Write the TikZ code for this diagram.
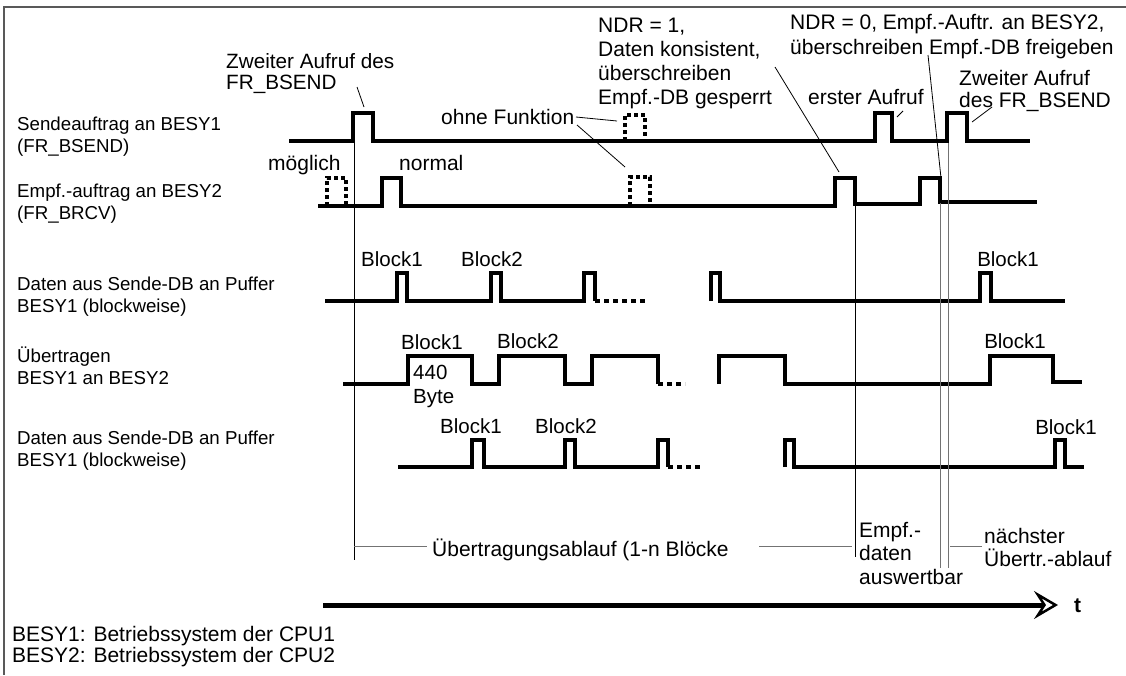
\documentclass[tikz,border=0pt]{standalone}
\usepackage{fontspec}
\setmainfont{Liberation Sans}
\usetikzlibrary{arrows.meta}
\newcommand{\lblsize}{\fontsize{18.7}{22}\selectfont}
\newcommand{\notesize}{\fontsize{21}{23.5}\selectfont}
\newcommand{\blksize}{\fontsize{20.5}{23.5}\selectfont}
\begin{document}
\begin{tikzpicture}[x=1pt, y=-1pt,
  sig/.style={line width=4pt},
  dsig/.style={line width=4pt, dash pattern=on 4pt off 3pt},
  dotrun/.style={line width=4pt, dash pattern=on 5pt off 4pt},
  lbl/.style={font=\lblsize, anchor=base west, align=left, inner sep=0pt},
  note/.style={font=\notesize, anchor=base west, align=left, inner sep=0pt},
  blk/.style={font=\blksize, anchor=base, inner sep=0pt},
  lead/.style={line width=0.8pt},
  tline/.style={line width=1pt},
  gline/.style={line width=1pt, black!55},
  frame/.style={line width=1.4pt, black!65},
]
\useasboundingbox (0,0) rectangle (1126,675);
% frame
\draw[frame] (1126,7) -- (4,7) -- (4,675);
% row labels (anchored at the last line)
\node[lbl] (sendlbl) at (17,152) {Sendeauftrag an BESY1\\(FR\_BSEND)};
\node[lbl] (rcvlbl) at (17,219) {Empf.-auftrag an BESY2\\(FR\_BRCV)};
\node[lbl] (buf1lbl) at (17,312) {Daten aus Sende-DB an Puffer\\BESY1 (blockweise)};
\node[lbl] (xferlbl) at (17,384) {Übertragen\\BESY1 an BESY2};
\node[lbl] (buf2lbl) at (17,466) {Daten aus Sende-DB an Puffer\\BESY1 (blockweise)};
% signals
\draw[sig] (289,141) -| (353,113) -| (373,141) -| (875,113) -| (892,141) -| (947,113) -| (967,141) -- (1030,141);
\draw[dsig] (625,141) |- (645,115) -- (645,141);
\draw[sig] (318,206) -| (382,178) -| (401,206) -| (835,178) -| (855,204) -| (920,178) -| (940,202) -- (1037,202);
\draw[dsig] (327,206) |- (346,178) -- (346,206);
\draw[dsig] (630,206) |- (650,177) -- (650,206);
\draw[sig] (325,301) -| (397,273) -| (407,301) -| (491,273) -| (501,301) -| (584,273) -| (595,301);
\draw[dotrun] (595,301) -- (648,301);
\draw[sig] (711,301) |- (720,273) -- (720,301) -| (980,273) -| (991,301) -- (1065,301);
\draw[sig] (343,384) -| (408,356) -| (472,384) -| (499,356) -| (565,384) -| (592,356) -| (658,384);
\draw[dotrun] (658,384) -- (685,384);
\draw[sig] (719,384) |- (785,356) -- (785,384) -| (990,356) -| (1053,382) -- (1082,382);
\draw[sig] (398,467) -| (472,440) -| (484,467) -| (565,440) -| (575,467) -| (658,440) -| (668,467);
\draw[dotrun] (668,467) -- (703,467);
\draw[sig] (785,467) |- (794,440) -- (794,467) -| (1055,440) -| (1065,467) -- (1084,467);
% block labels
\node[blk] (b1a) at (392,266) {Block1};
\node[blk] (b1b) at (492,266) {Block2};
\node[blk] (b1c) at (1008,266) {Block1};
\node[blk] (b2a) at (432,349) {Block1};
\node[blk] (b2b) at (528,348) {Block2};
\node[blk] (b2c) at (1015,348) {Block1};
\node[note, font=\blksize] (bytes) at (413,403) {440\\Byte};
\node[blk] (b3a) at (471,433) {Block1};
\node[blk] (b3b) at (566,433) {Block2};
\node[blk] (b3c) at (1066,434) {Block1};
% notes
\node[note, font=\fontsize{20.7}{21}\selectfont] (call2a) at (226,89) {Zweiter Aufruf des\\FR\_BSEND};
\node[note] (poss) at (268,170) {möglich};
\node[note] (norm) at (399,170) {normal};
\node[note] (nofun) at (441,124) {ohne Funktion};
\node[note, font=\fontsize{21}{24}\selectfont] (ndr1) at (598,104) {NDR = 1,\\Daten konsistent,\\überschreiben\\Empf.-DB gesperrt};
\node[note, font=\fontsize{21}{25}\selectfont] (ndr0) at (790,54) {NDR = 0, Empf.-Auftr. an BESY2,\\überschreiben Empf.-DB freigeben};
\node[note] (call1) at (808,104) {erster Aufruf};
\node[note, font=\fontsize{21}{22}\selectfont] (call2b) at (959,107) {Zweiter Aufruf\\des FR\_BSEND};
% leaders
\coordinate (p1) at (357,87);  \coordinate (p1t) at (364,107);
\coordinate (p2) at (576,117); \coordinate (p2t) at (617,121);
\coordinate (p3) at (577,125); \coordinate (p3t) at (625,167);
\coordinate (p4) at (775,67);  \coordinate (p4t) at (839,172);
\coordinate (p5) at (903,111); \coordinate (p5t) at (897,117);
\coordinate (p6) at (928,55);  \coordinate (p6t) at (941,178);
\coordinate (p7) at (992,107); \coordinate (p7t) at (972,122);
\foreach \a/\b in {p1/p1t, p2/p2t, p3/p3t, p4/p4t, p5/p5t, p6/p6t, p7/p7t}
  \draw[lead] (\a) -- (\b);
% markers
\coordinate (m1t) at (354,143); \coordinate (m1b) at (354,560);
\coordinate (m2t) at (855,206); \coordinate (m2b) at (855,557);
\coordinate (m3t) at (940,203); \coordinate (m3b) at (940,568);
\coordinate (m4t) at (948,143); \coordinate (m4b) at (948,568);
\draw[tline] (m1t) -- (m1b);
\draw[tline] (m2t) -- (m2b);
\draw[gline] (m3t) -- (m3b);
\draw[gline] (m4t) -- (m4b);
% phases
\node[note] (run) at (432,556) {Übertragungsablauf (1-n Blöcke};
\node[note] (eval) at (859,584) {Empf.-\\daten\\auswertbar};
\node[note, font=\fontsize{21}{23}\selectfont] (next) at (984,566) {nächster\\Übertr.-ablauf};
\coordinate (r1) at (427,546); \coordinate (r2) at (759,546);
\coordinate (r3) at (852,546); \coordinate (r4) at (950,546); \coordinate (r5) at (982,546);
\draw[gline] (m1b |- r1) -- (r1);
\draw[gline] (r2) -- (r3);
\draw[gline] (r4) -- (r5);
% time axis
\coordinate (axL) at (323,605);
\node[note, font=\notesize\bfseries] (tlbl) at (1074,612) {t};
\draw[line width=5pt, -{Stealth[length=24pt, width=28pt, inset=9pt, open, line width=2.5pt]}] (axL) -- (1058,605);
% legend
\node[note, font=\fontsize{21}{21}\selectfont] (legend) at (12,662) {BESY1: Betriebssystem der CPU1\\BESY2: Betriebssystem der CPU2};
\end{tikzpicture}
\end{document}
